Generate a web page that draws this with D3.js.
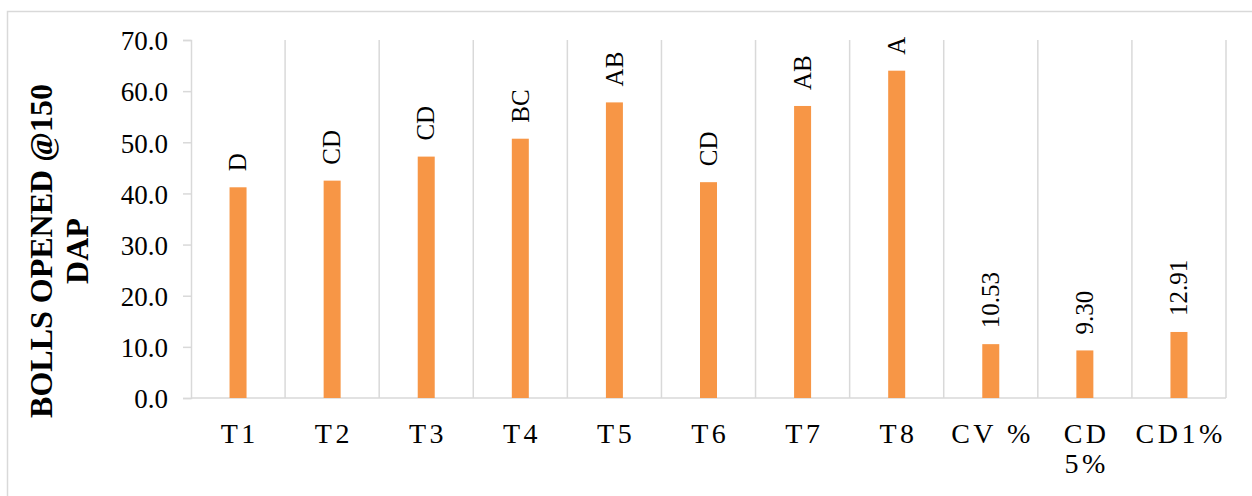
<!DOCTYPE html>
<html lang="en">
<head>
  <meta charset="utf-8">
  <title>Bolls opened</title>
  <style>
    html, body { margin: 0; padding: 0; background: #fff; }
    text { font-family: "Liberation Serif", "Times New Roman", serif; fill: #000; }
  </style>
</head>
<body>
  <div id="chart"></div>

  <script src="https://d3js.org/d3.v7.min.js"></script>
  <script type="text/javascript">
    const categories = ['T1', 'T2', 'T3', 'T4', 'T5', 'T6', 'T7', 'T8', 'CV %', 'CD\n5%', 'CD1%'];
    const values = [41.2, 42.5, 47.2, 50.7, 57.8, 42.2, 57.1, 64.0, 10.53, 9.30, 12.91];
    const barLabels = ['D', 'CD', 'CD', 'BC', 'AB', 'CD', 'AB', 'A', '10.53', '9.30', '12.91'];
    const yTicks = [0, 10, 20, 30, 40, 50, 60, 70];

    const data = categories.map((c, i) => ({ cat: c, value: values[i], label: barLabels[i] }));

    const width = 1252;
    const height = 496;
    const margin = { top: 40, right: 26, bottom: 98, left: 191 };

    const x = d3.scaleBand()
      .domain(categories)
      .range([margin.left, width - margin.right])
      .padding(0);
    const y = d3.scaleLinear()
      .domain([0, 70])
      .range([height - margin.bottom, margin.top]);

    const svg = d3.select('#chart').append('svg')
      .attr('width', width)
      .attr('height', height);

    // outer chart border
    svg.append('rect')
      .attr('x', 7.5).attr('y', 11.5)
      .attr('width', width).attr('height', height)
      .attr('fill', 'none')
      .attr('stroke', '#d9d9d9')
      .attr('stroke-width', 1.5);

    // category separators
    svg.append('g')
      .selectAll('line')
      .data(categories)
      .join('line')
      .attr('x1', d => x(d) + x.bandwidth())
      .attr('x2', d => x(d) + x.bandwidth())
      .attr('y1', y(70))
      .attr('y2', y(0))
      .attr('stroke', '#d9d9d9')
      .attr('stroke-width', 1.5);

    // y axis
    const yAxis = d3.axisLeft(y)
      .tickValues(yTicks)
      .tickFormat(d3.format('.1f'))
      .tickSize(8)
      .tickPadding(15);
    const gy = svg.append('g')
      .attr('transform', `translate(${margin.left},0)`)
      .call(yAxis);
    gy.select('.domain').attr('stroke', '#d9d9d9').attr('stroke-width', 1.5);
    gy.selectAll('.tick line').attr('stroke', '#d9d9d9').attr('stroke-width', 1.5);
    gy.selectAll('.tick text')
      .attr('font-size', 27)
      .attr('dy', '0.36em')
      .attr('fill', '#000');

    // x baseline
    svg.append('line')
      .attr('x1', margin.left).attr('x2', width - margin.right)
      .attr('y1', y(0)).attr('y2', y(0))
      .attr('stroke', '#d9d9d9')
      .attr('stroke-width', 1.5);

    // bars
    const barW = 17;
    svg.append('g')
      .selectAll('rect')
      .data(data)
      .join('rect')
      .attr('x', d => x(d.cat) + x.bandwidth() / 2 - barW / 2)
      .attr('y', d => y(d.value))
      .attr('width', barW)
      .attr('height', d => y(0) - y(d.value))
      .attr('fill', '#f79646');

    // bar labels, rotated
    svg.append('g')
      .selectAll('text')
      .data(data)
      .join('text')
      .attr('transform', d => `translate(${x(d.cat) + x.bandwidth() / 2},${y(d.value) - 16}) rotate(-90)`)
      .attr('dy', '0.33em')
      .attr('font-size', 25)
      .text(d => d.label);

    // category labels
    const catG = svg.append('g')
      .selectAll('text')
      .data(categories)
      .join('text')
      .attr('x', d => x(d) + x.bandwidth() / 2 + 1.75)
      .attr('y', 443)
      .attr('text-anchor', 'middle')
      .attr('font-size', 28)
      .attr('letter-spacing', 3.5)
      .style('white-space', 'pre');
    catG.selectAll('tspan')
      .data(d => d.split('\n'))
      .join('tspan')
      .attr('x', function () { return d3.select(this.parentNode).attr('x'); })
      .attr('dy', (d, i) => i === 0 ? 0 : 30)
      .text(d => d);

    // y axis title
    const titleLines = ['BOLLS OPENED @150', 'DAP'];
    svg.append('g')
      .selectAll('text')
      .data(titleLines)
      .join('text')
      .attr('transform', (d, i) => `translate(${52 + i * 36},251) rotate(-90)`)
      .attr('text-anchor', 'middle')
      .attr('font-size', 32)
      .attr('font-weight', 'bold')
      .text(d => d);
  </script>
</body>
</html>
